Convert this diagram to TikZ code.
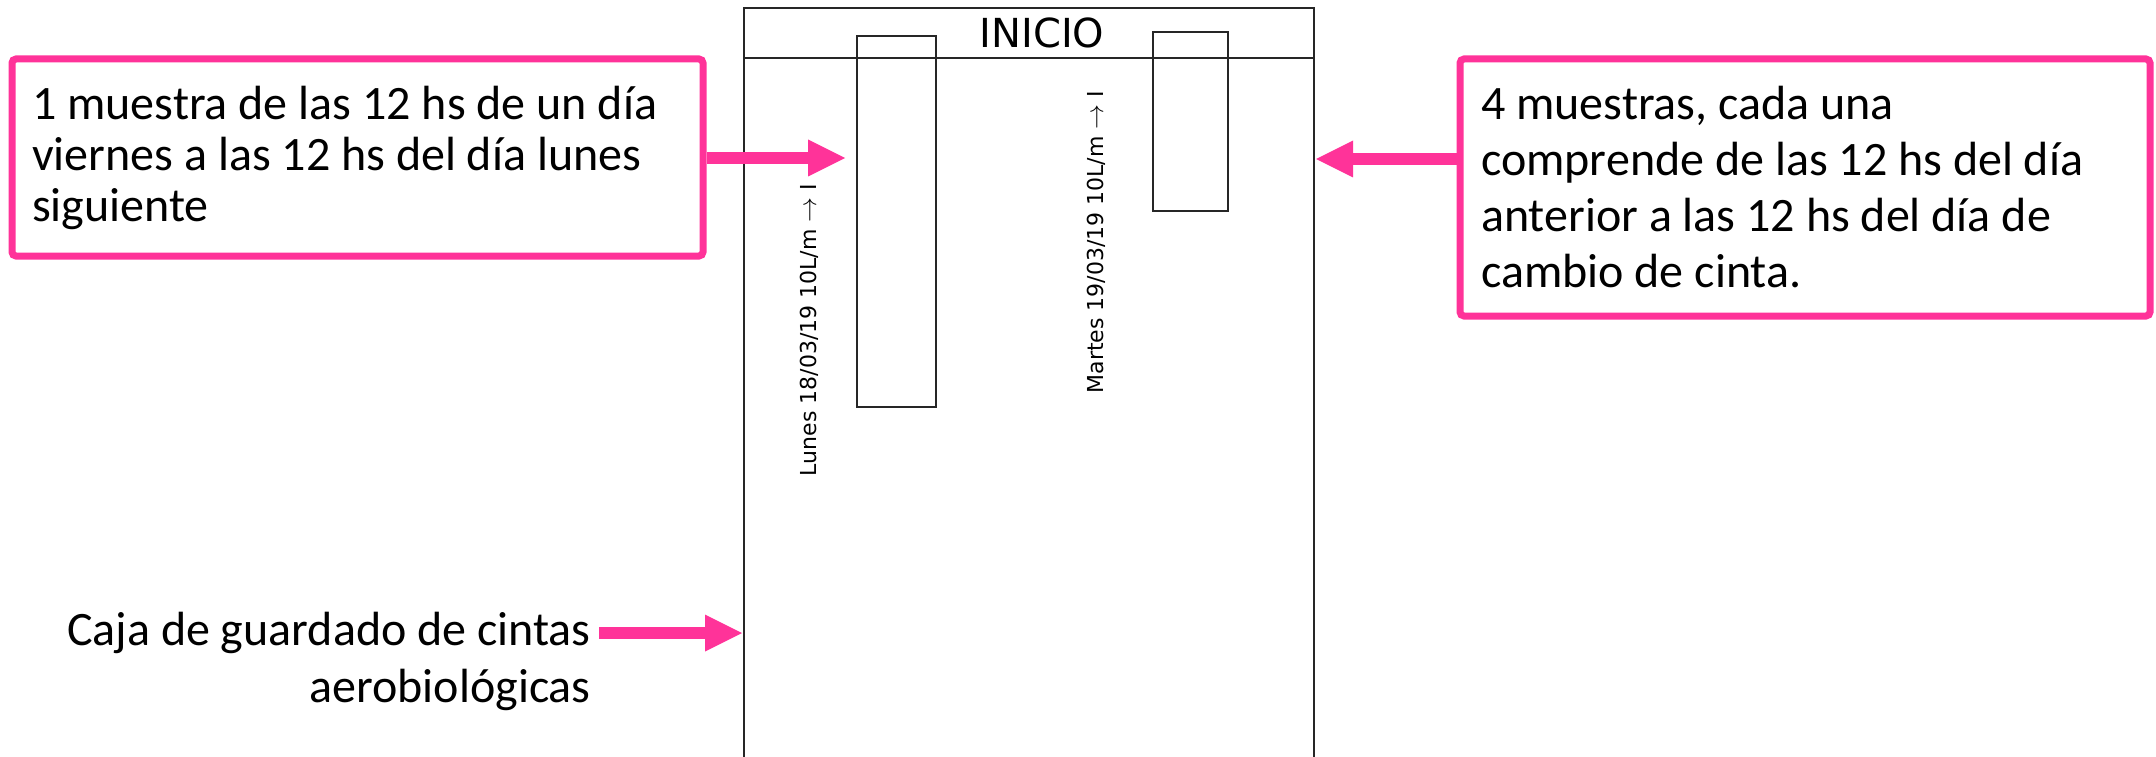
\documentclass[tikz,border=0pt]{standalone}
\usepackage{fontspec}
\setmainfont{Carlito}
\newfontfamily\dvs{DejaVu Sans}
\usetikzlibrary{arrows.meta}
\definecolor{pinkc}{HTML}{FF3399}
\newcommand{\tapearrow}{{\fontsize{24}{24}\selectfont$\rightarrow$}}
\tikzset{
  callout/.style={draw=pinkc, line width=7pt, rounded corners=4pt, fill=white,
    inner sep=0pt, anchor=center},
  callouttext/.style={inner sep=0pt, align=left, anchor=west},
  pinkarrow/.style={draw=pinkc, line width=12pt,
    -{Triangle[length=37pt,width=37pt,line width=0pt]}},
  thinbox/.style={draw=black!85, line width=2pt},
  rottext/.style={rotate=90, inner sep=0pt, font=\dvs\fontsize{22}{24}\selectfont},
}
\begin{document}
\begin{tikzpicture}[x=1pt,y=-1pt]
\useasboundingbox (0,0) rectangle (2156,757);
% outer storage box
\draw[thinbox] (744,757) -- (744,8) -- (1314,8) -- (1314,757);
\draw[thinbox] (744,58) -- (1314,58);
\node[font=\dvs\fontsize{40}{44}\selectfont, inner sep=0pt] (inicio) at (1042,33) {INICIO};
% tapes
\draw[thinbox] (857,36) rectangle (936,407);
\draw[thinbox] (1153,32) rectangle (1228,211);
\node[rottext] (lunes) at (809,330) {Lunes 18/03/19 10L/m \tapearrow{} I};
\node[rottext] (martes) at (1096,242) {Martes 19/03/19 10L/m \tapearrow{} I};
% callouts
\node[callout, minimum width=691pt, minimum height=197pt] (lbox) at (357.5,157.5) {};
\node[callouttext, font=\fontsize{48}{51}\selectfont] (ltext) at (32,157.5)
  {1 muestra de las 12 hs de un día\\viernes a las 12 hs del día lunes\\siguiente};
\node[callout, minimum width=690pt, minimum height=257pt] (rbox) at (1805,187.5) {};
\node[callouttext, font=\fontsize{48}{56}\selectfont] (rtext) at (1481,187.5)
  {4 muestras, cada una\\comprende de las 12 hs del día\\anterior a las 12 hs del día de\\cambio de cinta.};
\node[inner sep=0pt, align=right, anchor=east, font=\fontsize{48}{57}\selectfont] (caja) at (591,661)
  {Caja de guardado de cintas\\aerobiológicas};
% arrows
\coordinate (tipL) at (845,158);
\coordinate (tipR) at (1316,159);
\coordinate (tipB) at (742,633);
\draw[pinkarrow] (lbox.east |- tipL) -- (tipL);
\draw[pinkarrow] (rbox.west |- tipR) -- (tipR);
\draw[pinkarrow] (caja.east |- tipB) ++(8,0) -- (tipB);
\end{tikzpicture}
\end{document}
